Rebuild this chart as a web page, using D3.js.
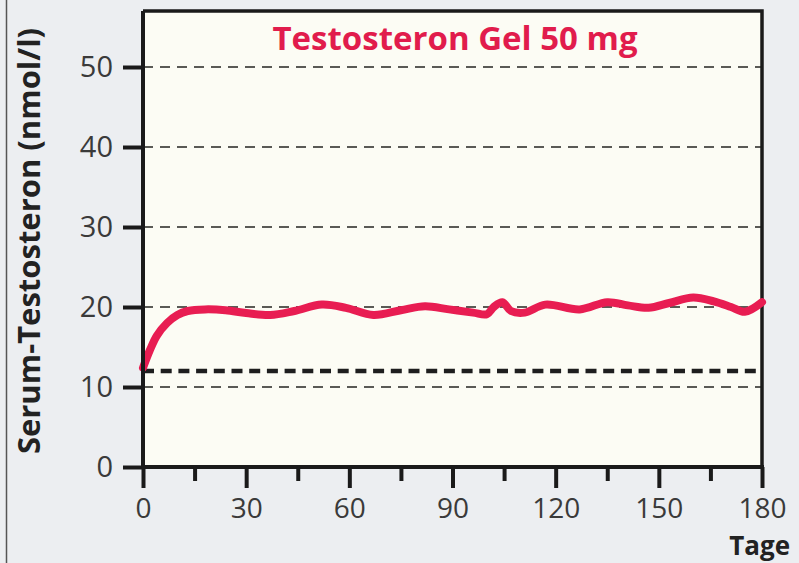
<!DOCTYPE html>
<html>
<head>
<meta charset="utf-8">
<script src="https://cdn.jsdelivr.net/npm/d3@7"></script>
<style>
  html, body { margin: 0; padding: 0; background: #eceef1; }
  svg { display: block; }
  text { font-family: "Open Sans", "DejaVu Sans", sans-serif; }
</style>
</head>
<body>
<div id="chart"></div>
<script>
// values
var days   = [0, 2, 4, 7, 10, 13, 18, 24, 30, 37, 44, 52, 59, 67, 75, 82, 89, 96, 100, 102, 104.5, 107, 111, 117, 127, 135, 141, 147, 153, 160, 166, 171, 175, 180];
var serum  = [12.4, 14.6, 16.4, 18.0, 19.0, 19.5, 19.7, 19.6, 19.25, 19.0, 19.5, 20.3, 19.9, 19.0, 19.6, 20.1, 19.7, 19.3, 19.1, 20.0, 20.6, 19.5, 19.3, 20.3, 19.7, 20.6, 20.2, 19.9, 20.5, 21.2, 20.7, 20.0, 19.4, 20.6];
var yTicks = [0, 10, 20, 30, 40, 50];
var xTicks = [0, 30, 60, 90, 120, 150, 180];
var xMinorTicks = [15, 45, 75, 105, 135, 165];
var gridLevels = [10, 20, 30, 40, 50];
var lowerLimit = [12];
var title = "Testosteron Gel 50 mg";
var yTitle = "Serum-Testosteron (nmol/l)";
var xTitle = "Tage";

var width = 799, height = 563;
var margin = {top: 11, right: 37, bottom: 96, left: 143};

var svg = d3.select("#chart")
  .append("svg")
    .attr("width", width)
    .attr("height", height);

// background
svg.append("rect")
  .attr("width", width).attr("height", height)
  .attr("fill", "#eceef1");
svg.append("line")
  .attr("x1", 6.5).attr("x2", 6.5).attr("y1", 0).attr("y2", height)
  .attr("stroke", "#555").attr("stroke-width", 1.5);

var x = d3.scaleLinear()
  .domain([0, 180])
  .range([margin.left, width - margin.right]);

var y = d3.scaleLinear()
  .domain([0, 57])
  .range([height - margin.bottom, margin.top]);

// plot area
svg.append("rect")
  .attr("x", x(0)).attr("y", y(57))
  .attr("width", x(180) - x(0)).attr("height", y(0) - y(57))
  .attr("fill", "#fcfcf4");

// dashed grid lines
svg.append("g").selectAll("line")
  .data(gridLevels)
  .join("line")
    .attr("x1", x(0)).attr("x2", x(180))
    .attr("y1", d => y(d)).attr("y2", d => y(d))
    .attr("stroke", "#5a5a55")
    .attr("stroke-width", 1.8)
    .attr("stroke-dasharray", "10,7");

// lower limit, thick dashes
svg.append("g").selectAll("line")
  .data(lowerLimit)
  .join("line")
    .attr("x1", x(0)).attr("x2", x(180))
    .attr("y1", d => y(d)).attr("y2", d => y(d))
    .attr("stroke", "#1e1e1e")
    .attr("stroke-width", 4.5)
    .attr("stroke-dasharray", "11,6.7");

// frame top + right
svg.append("path")
  .attr("d", `M${x(0)},${y(57)}H${x(180)}V${y(0)}`)
  .attr("fill", "none")
  .attr("stroke", "#1a1a1a")
  .attr("stroke-width", 3.5);

// the curve
var line = d3.line()
  .x((d, i) => x(days[i]))
  .y(d => y(d))
  .curve(d3.curveCatmullRom.alpha(0.5));

svg.append("path")
  .datum(serum)
  .attr("d", line)
  .attr("fill", "none")
  .attr("stroke", "#e81d52")
  .attr("stroke-width", 8)
  .attr("stroke-linecap", "round")
  .attr("stroke-linejoin", "round");

// y axis
var yAxis = svg.append("g")
  .attr("transform", `translate(${x(0)},0)`)
  .call(d3.axisLeft(y).tickValues(yTicks).tickSize(20).tickPadding(10).tickSizeOuter(0));
yAxis.select(".domain").attr("d", `M0,${y(0) + 2}V${y(57)}`).attr("stroke", "#1a1a1a").attr("stroke-width", 4);
yAxis.selectAll(".tick line").attr("stroke", "#1a1a1a").attr("stroke-width", 4);
yAxis.selectAll(".tick text")
  .attr("fill", "#3a3a3a")
  .style("font-size", "29px");

// x axis
var xAxis = svg.append("g")
  .attr("transform", `translate(0,${y(0)})`)
  .call(d3.axisBottom(x).tickValues(xTicks).tickSize(21).tickPadding(10).tickSizeOuter(0));
xAxis.select(".domain").attr("d", `M${x(0) - 2},0H${x(180) + 2}`).attr("stroke", "#1a1a1a").attr("stroke-width", 4);
xAxis.selectAll(".tick line").attr("stroke", "#1a1a1a").attr("stroke-width", 4);
xAxis.selectAll(".tick text")
  .attr("fill", "#3a3a3a")
  .style("font-size", "28px");

var xMinor = svg.append("g")
  .attr("transform", `translate(0,${y(0)})`)
  .call(d3.axisBottom(x).tickValues(xMinorTicks).tickSize(14).tickFormat(""));
xMinor.select(".domain").remove();
xMinor.selectAll(".tick line").attr("stroke", "#1a1a1a").attr("stroke-width", 4);

// titles
svg.append("text")
  .attr("x", 455).attr("y", 50)
  .attr("text-anchor", "middle")
  .attr("fill", "#e11c4c")
  .style("font-size", "33px")
  .style("font-weight", "bold")
  .text(title);

svg.append("text")
  .attr("transform", `translate(40,${(y(0) + y(57)) / 2 + 2}) rotate(-90)`)
  .attr("text-anchor", "middle")
  .attr("fill", "#222")
  .style("font-size", "31px")
  .style("font-weight", "bold")
  .text(yTitle);

svg.append("text")
  .attr("x", 790).attr("y", 555)
  .attr("text-anchor", "end")
  .attr("fill", "#222")
  .style("font-size", "26px")
  .style("font-weight", "bold")
  .text(xTitle);
</script>
</body>
</html>
